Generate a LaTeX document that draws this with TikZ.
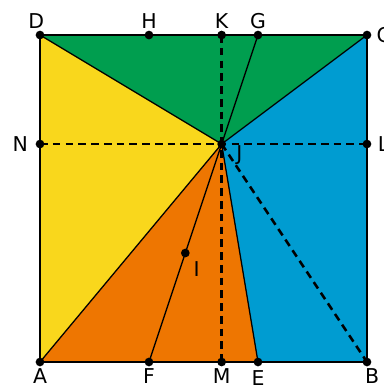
\documentclass[tikz,border=0pt]{standalone}
\usepackage{fontspec}
\setmainfont{DejaVu Sans}
\usetikzlibrary{backgrounds}
\definecolor{sqgreen}{HTML}{009E4F}
\definecolor{sqyellow}{HTML}{F9D71C}
\definecolor{sqorange}{HTML}{EE7601}
\definecolor{sqblue}{HTML}{009CD1}

\begin{document}
\begin{tikzpicture}[
  font=\fontsize{16}{18}\selectfont, label distance=1.5pt,
  edge/.style={line width=1pt, black},
  aux/.style={line width=2pt, black, dash pattern=on 6pt off 4pt},
  dot/.style={fill=black}
]
  \useasboundingbox (-1.101,-0.688) rectangle (9.468,9.964);

  \coordinate[label=below:A] (A) at (0,0);
  \coordinate[label={[xshift=4pt]below:B}] (B) at (9,0);
  \coordinate[label={[label distance=4pt]right:C}] (C) at (9,9);
  \coordinate[label={[xshift=-3pt]above:D}] (D) at (0,9);
  \coordinate[label={[yshift=-2pt]below:E}] (E) at (6,0);
  \coordinate[label=below:F] (F) at (3,0);
  \coordinate[label=above:G] (G) at (6,9);
  \coordinate[label=above:H] (H) at (3,9);
  \coordinate[label={[xshift=2pt,yshift=-2pt]below right:I}] (I) at (4,3);
  \coordinate[label={[xshift=7pt,yshift=3pt]below right:J}] (J) at (5,6);
  \coordinate[label=above:K] (K) at (5,9);
  \coordinate[label={[label distance=5pt]right:L}] (L) at (9,6);
  \coordinate[label=below:M] (M) at (5,0);
  \coordinate[label={[label distance=6pt]left:N}] (N) at (0,6);

  % coloured parts
  \begin{scope}[on background layer]
    \fill[sqgreen] (D) -- (C) -- (J) -- cycle;
    \fill[sqyellow] (A) -- (J) -- (D) -- cycle;
    \fill[sqorange] (A) -- (E) -- (J) -- cycle;
    \fill[sqblue] (E) -- (B) -- (C) -- (J) -- cycle;
  \end{scope}

  \draw[edge] (A) -- (B) -- (C) -- (D) -- cycle;
  \foreach \p in {A,D,C,G,F,E}
    \draw[edge] (J) -- (\p);

  \draw[aux] (K) -- (M);
  \draw[aux] (N) -- (L);
  \draw[aux] (J) -- (B);

  \foreach \p in {A,B,C,D,E,F,G,H,I,J,K,L,M,N}
    \fill[dot] (\p) circle (0.12);
\end{tikzpicture}
\end{document}
